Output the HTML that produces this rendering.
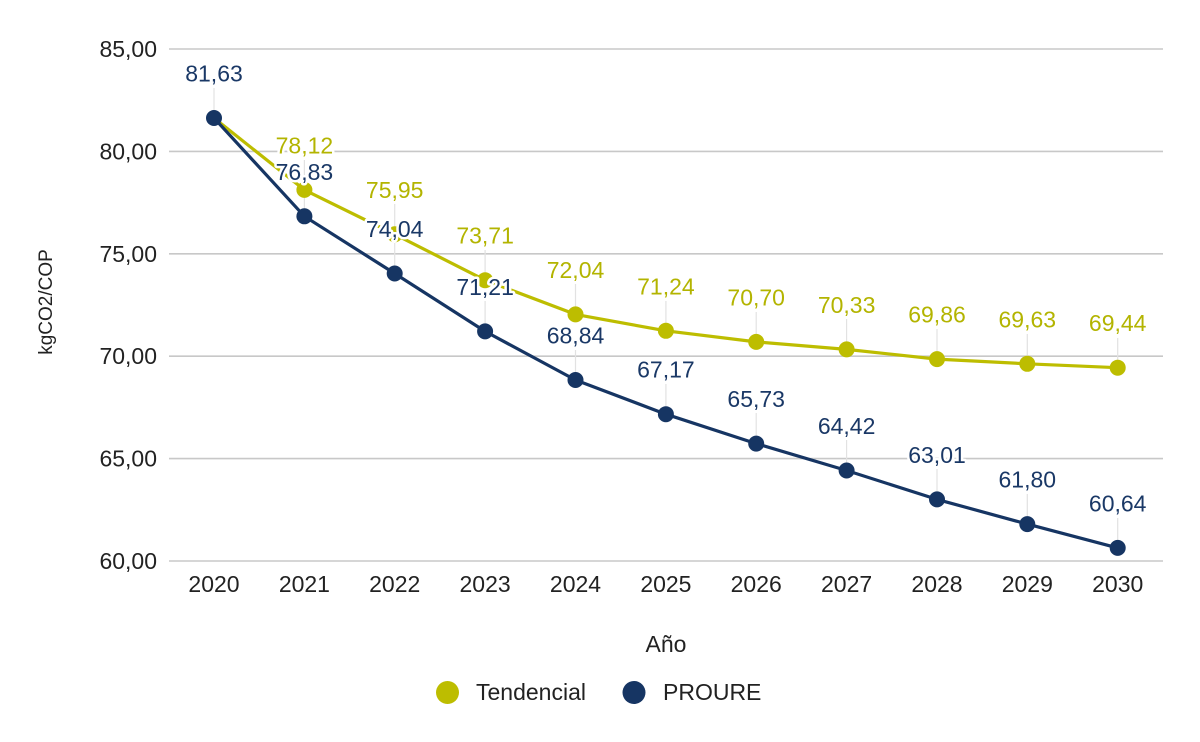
<!DOCTYPE html>
<html>
<head>
<meta charset="utf-8">
<style>
html,body{margin:0;padding:0;background:#fff;}
svg{display:block;}
text{font-family:"Liberation Sans",Arial,sans-serif;}
.tick{font-size:23px;fill:#222;}
.lbl{font-size:23px;stroke:#fff;stroke-width:5px;paint-order:stroke;stroke-linejoin:round;}
.t{fill:#b3b400;}
.p{fill:#1a3866;}
</style>
</head>
<body>
<svg width="1200" height="742" viewBox="0 0 1200 742" xmlns="http://www.w3.org/2000/svg">
<rect width="1200" height="742" fill="#fff"/>
<!-- gridlines -->
<g stroke="#c8c8c8" stroke-width="1.6">
<line x1="169" y1="49" x2="1163" y2="49"/>
<line x1="169" y1="151.4" x2="1163" y2="151.4"/>
<line x1="169" y1="253.8" x2="1163" y2="253.8"/>
<line x1="169" y1="356.2" x2="1163" y2="356.2"/>
<line x1="169" y1="458.6" x2="1163" y2="458.6"/>
<line x1="169" y1="561" x2="1163" y2="561"/>
</g>
<!-- y tick labels -->
<g class="tick" text-anchor="end">
<text x="157" y="57">85,00</text>
<text x="157" y="159.4">80,00</text>
<text x="157" y="261.8">75,00</text>
<text x="157" y="364.2">70,00</text>
<text x="157" y="466.6">65,00</text>
<text x="157" y="569">60,00</text>
</g>
<!-- x tick labels -->
<g class="tick" text-anchor="middle">
<text x="214" y="592">2020</text>
<text x="304.4" y="592">2021</text>
<text x="394.7" y="592">2022</text>
<text x="485.1" y="592">2023</text>
<text x="575.5" y="592">2024</text>
<text x="665.9" y="592">2025</text>
<text x="756.2" y="592">2026</text>
<text x="846.6" y="592">2027</text>
<text x="937" y="592">2028</text>
<text x="1027.3" y="592">2029</text>
<text x="1117.7" y="592">2030</text>
</g>
<!-- axis titles -->
<text x="666" y="652" text-anchor="middle" style="font-size:23px;fill:#222;">Año</text>
<text transform="translate(52,302) rotate(-90)" text-anchor="middle" style="font-size:19px;fill:#222;">kgCO2/COP</text>
<!-- leader lines -->
<g stroke="#e2e2e2" stroke-width="1.2">
<line x1="214" y1="88" x2="214" y2="118"/>
<line x1="304.4" y1="160" x2="304.4" y2="190"/>
<line x1="394.7" y1="204" x2="394.7" y2="234"/>
<line x1="485.1" y1="250" x2="485.1" y2="280"/>
<line x1="575.5" y1="284" x2="575.5" y2="314"/>
<line x1="665.9" y1="301" x2="665.9" y2="331"/>
<line x1="756.2" y1="312" x2="756.2" y2="342"/>
<line x1="846.6" y1="319" x2="846.6" y2="349"/>
<line x1="937" y1="329" x2="937" y2="359"/>
<line x1="1027.3" y1="334" x2="1027.3" y2="364"/>
<line x1="1117.7" y1="338" x2="1117.7" y2="368"/>
<line x1="304.4" y1="186" x2="304.4" y2="216"/>
<line x1="394.7" y1="243" x2="394.7" y2="273"/>
<line x1="485.1" y1="301" x2="485.1" y2="331"/>
<line x1="575.5" y1="350" x2="575.5" y2="380"/>
<line x1="665.9" y1="384" x2="665.9" y2="414"/>
<line x1="756.2" y1="413" x2="756.2" y2="443"/>
<line x1="846.6" y1="440" x2="846.6" y2="470"/>
<line x1="937" y1="469" x2="937" y2="499"/>
<line x1="1027.3" y1="494" x2="1027.3" y2="524"/>
<line x1="1117.7" y1="518" x2="1117.7" y2="548"/>
</g>
<!-- Tendencial series -->
<polyline fill="none" stroke="#bdbd00" stroke-width="3.2" stroke-linejoin="round"
points="214,118 304.4,189.9 394.7,234.3 485.1,280.2 575.5,314.4 665.9,330.8 756.2,341.9 846.6,349.4 937,359.1 1027.3,363.8 1117.7,367.7"/>
<g fill="#bdbd00">
<circle cx="304.4" cy="189.9" r="8"/>
<circle cx="394.7" cy="234.3" r="8"/>
<circle cx="485.1" cy="280.2" r="8"/>
<circle cx="575.5" cy="314.4" r="8"/>
<circle cx="665.9" cy="330.8" r="8"/>
<circle cx="756.2" cy="341.9" r="8"/>
<circle cx="846.6" cy="349.4" r="8"/>
<circle cx="937" cy="359.1" r="8"/>
<circle cx="1027.3" cy="363.8" r="8"/>
<circle cx="1117.7" cy="367.7" r="8"/>
</g>
<!-- PROURE series -->
<polyline fill="none" stroke="#163563" stroke-width="3.2" stroke-linejoin="round"
points="214,118 304.4,216.3 394.7,273.5 485.1,331.4 575.5,380 665.9,414.2 756.2,443.6 846.6,470.5 937,499.4 1027.3,524.1 1117.7,547.9"/>
<g fill="#163563">
<circle cx="214" cy="118" r="8"/>
<circle cx="304.4" cy="216.3" r="8"/>
<circle cx="394.7" cy="273.5" r="8"/>
<circle cx="485.1" cy="331.4" r="8"/>
<circle cx="575.5" cy="380" r="8"/>
<circle cx="665.9" cy="414.2" r="8"/>
<circle cx="756.2" cy="443.6" r="8"/>
<circle cx="846.6" cy="470.5" r="8"/>
<circle cx="937" cy="499.4" r="8"/>
<circle cx="1027.3" cy="524.1" r="8"/>
<circle cx="1117.7" cy="547.9" r="8"/>
</g>
<!-- Tendencial labels -->
<g class="lbl t" text-anchor="middle">
<text x="304.4" y="153.4">78,12</text>
<text x="394.7" y="197.8">75,95</text>
<text x="485.1" y="243.7">73,71</text>
<text x="575.5" y="277.9">72,04</text>
<text x="665.9" y="294.3">71,24</text>
<text x="756.2" y="305.4">70,70</text>
<text x="846.6" y="312.9">70,33</text>
<text x="937" y="322.6">69,86</text>
<text x="1027.3" y="327.3">69,63</text>
<text x="1117.7" y="331.2">69,44</text>
</g>
<!-- PROURE labels -->
<g class="lbl p" text-anchor="middle">
<text x="214" y="81.5">81,63</text>
<text x="304.4" y="179.8">76,83</text>
<text x="394.7" y="237">74,04</text>
<text x="485.1" y="294.9">71,21</text>
<text x="575.5" y="343.5">68,84</text>
<text x="665.9" y="377.7">67,17</text>
<text x="756.2" y="407.1">65,73</text>
<text x="846.6" y="434">64,42</text>
<text x="937" y="462.9">63,01</text>
<text x="1027.3" y="487.6">61,80</text>
<text x="1117.7" y="511.4">60,64</text>
</g>
<!-- legend -->
<circle cx="447.5" cy="692.5" r="11.5" fill="#bdbd00"/>
<text x="476" y="700" style="font-size:23px;fill:#222;">Tendencial</text>
<circle cx="634" cy="692.5" r="11.5" fill="#163563"/>
<text x="663" y="700" style="font-size:23px;fill:#222;">PROURE</text>
</svg>
</body>
</html>
